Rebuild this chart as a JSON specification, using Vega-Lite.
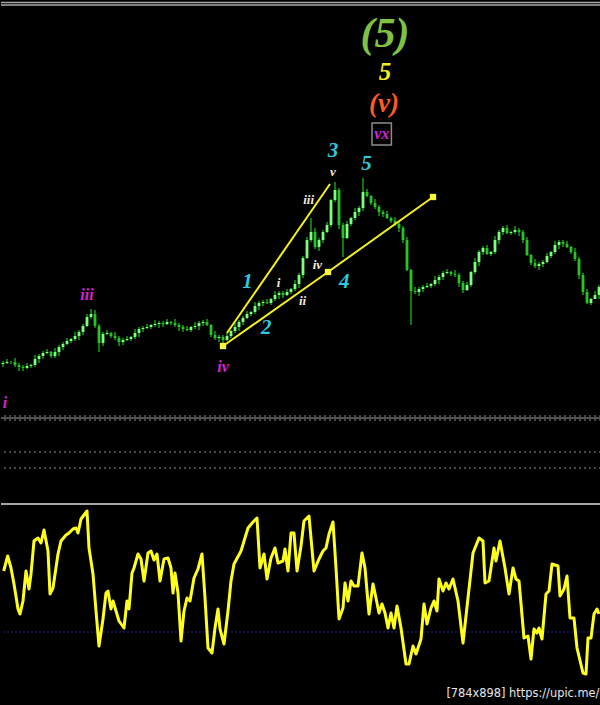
{
  "$schema": "https://vega.github.io/schema/vega-lite/v6.json",
  "background": "#000000",
  "padding": 0,
  "spacing": 0,
  "config": {"view": {"stroke": null}, "concat": {"spacing": 0}},
  "datasets": {
    "bars": [
      {"t":0.5,"o":138,"h":141,"l":135,"c":139},{"t":1.5,"o":139,"h":143,"l":138,"c":140},{"t":2.5,"o":140,"h":141,"l":138,"c":140},{"t":3.5,"o":140,"h":144,"l":135,"c":137},{"t":4.5,"o":137,"h":139,"l":131,"c":135},
      {"t":5.5,"o":135,"h":137,"l":131,"c":134},{"t":6.5,"o":134,"h":139,"l":133,"c":136},{"t":7.5,"o":136,"h":138,"l":134,"c":137},{"t":8.5,"o":137,"h":147,"l":135,"c":143},{"t":9.5,"o":143,"h":148,"l":139,"c":146},
      {"t":10.5,"o":146,"h":151,"l":143,"c":149},{"t":11.5,"o":149,"h":153,"l":148,"c":150},{"t":12.5,"o":150,"h":151,"l":144,"c":146},{"t":13.5,"o":146,"h":154,"l":144,"c":150},{"t":14.5,"o":150,"h":157,"l":146,"c":155},
      {"t":15.5,"o":155,"h":160,"l":152,"c":158},{"t":16.5,"o":158,"h":164,"l":157,"c":161},{"t":17.5,"o":161,"h":164,"l":159,"c":163},{"t":18.5,"o":163,"h":170,"l":161,"c":166},{"t":19.5,"o":166,"h":172,"l":162,"c":170},
      {"t":20.5,"o":170,"h":178,"l":167,"c":176},{"t":21.5,"o":176,"h":188,"l":175,"c":185},{"t":22.5,"o":185,"h":193,"l":183,"c":188},{"t":23.5,"o":188,"h":192,"l":174,"c":176},{"t":24.5,"o":176,"h":178,"l":150,"c":159},
      {"t":25.5,"o":159,"h":170,"l":156,"c":168},{"t":26.5,"o":168,"h":172,"l":167,"c":169},{"t":27.5,"o":169,"h":170,"l":164,"c":166},{"t":28.5,"o":166,"h":170,"l":162,"c":164},{"t":29.5,"o":164,"h":166,"l":156,"c":160},
      {"t":30.5,"o":160,"h":164,"l":157,"c":162},{"t":31.5,"o":162,"h":166,"l":161,"c":163},{"t":32.5,"o":163,"h":166,"l":161,"c":165},{"t":33.5,"o":165,"h":173,"l":163,"c":169},{"t":34.5,"o":169,"h":175,"l":165,"c":173},
      {"t":35.5,"o":173,"h":176,"l":170,"c":174},{"t":36.5,"o":174,"h":178,"l":173,"c":175},{"t":37.5,"o":175,"h":178,"l":173,"c":177},{"t":38.5,"o":177,"h":182,"l":175,"c":178},{"t":39.5,"o":178,"h":181,"l":174,"c":179},
      {"t":40.5,"o":179,"h":181,"l":175,"c":178},{"t":41.5,"o":178,"h":183,"l":177,"c":180},{"t":42.5,"o":180,"h":181,"l":177,"c":179},{"t":43.5,"o":179,"h":183,"l":175,"c":177},{"t":44.5,"o":177,"h":179,"l":171,"c":175},
      {"t":45.5,"o":175,"h":177,"l":170,"c":173},{"t":46.5,"o":173,"h":176,"l":171,"c":172},{"t":47.5,"o":172,"h":176,"l":170,"c":175},{"t":48.5,"o":175,"h":180,"l":173,"c":176},{"t":49.5,"o":176,"h":181,"l":172,"c":179},
      {"t":50.5,"o":179,"h":182,"l":176,"c":180},{"t":51.5,"o":180,"h":183,"l":176,"c":177},{"t":52.5,"o":177,"h":178,"l":165,"c":167},{"t":53.5,"o":167,"h":171,"l":162,"c":164},{"t":54.5,"o":164,"h":167,"l":160,"c":165},
      {"t":55.5,"o":165,"h":167,"l":157,"c":162},{"t":56.5,"o":162,"h":169,"l":161,"c":166},{"t":57.5,"o":166,"h":172,"l":164,"c":171},{"t":58.5,"o":171,"h":179,"l":169,"c":175},{"t":59.5,"o":175,"h":182,"l":171,"c":180},
      {"t":60.5,"o":180,"h":186,"l":177,"c":184},{"t":61.5,"o":184,"h":191,"l":183,"c":188},{"t":62.5,"o":188,"h":191,"l":186,"c":190},{"t":63.5,"o":190,"h":200,"l":188,"c":196},{"t":64.5,"o":196,"h":201,"l":192,"c":199},
      {"t":65.5,"o":199,"h":202,"l":196,"c":200},{"t":66.5,"o":200,"h":203,"l":198,"c":199},{"t":67.5,"o":199,"h":204,"l":197,"c":203},{"t":68.5,"o":203,"h":211,"l":201,"c":207},{"t":69.5,"o":207,"h":211,"l":203,"c":209},
      {"t":70.5,"o":209,"h":211,"l":204,"c":207},{"t":71.5,"o":207,"h":213,"l":206,"c":210},{"t":72.5,"o":210,"h":214,"l":208,"c":213},{"t":73.5,"o":213,"h":222,"l":211,"c":218},{"t":74.5,"o":218,"h":229,"l":214,"c":227},
      {"t":75.5,"o":227,"h":246,"l":224,"c":244},{"t":76.5,"o":244,"h":265,"l":243,"c":262},{"t":77.5,"o":262,"h":284,"l":260,"c":270},{"t":78.5,"o":270,"h":274,"l":253,"c":255},{"t":79.5,"o":255,"h":264,"l":251,"c":262},
      {"t":80.5,"o":262,"h":272,"l":259,"c":270},{"t":81.5,"o":270,"h":280,"l":269,"c":277},{"t":82.5,"o":277,"h":303,"l":275,"c":302},{"t":83.5,"o":302,"h":320,"l":300,"c":312},{"t":84.5,"o":312,"h":314,"l":273,"c":277},
      {"t":85.5,"o":277,"h":279,"l":245,"c":264},{"t":86.5,"o":264,"h":281,"l":263,"c":278},{"t":87.5,"o":278,"h":285,"l":276,"c":284},{"t":88.5,"o":284,"h":294,"l":282,"c":290},{"t":89.5,"o":290,"h":296,"l":286,"c":294},
      {"t":90.5,"o":294,"h":324,"l":291,"c":310},{"t":91.5,"o":310,"h":313,"l":305,"c":306},{"t":92.5,"o":306,"h":307,"l":297,"c":299},{"t":93.5,"o":299,"h":303,"l":293,"c":295},{"t":94.5,"o":295,"h":297,"l":286,"c":290},
      {"t":95.5,"o":290,"h":292,"l":285,"c":288},{"t":96.5,"o":288,"h":291,"l":283,"c":284},{"t":97.5,"o":284,"h":285,"l":279,"c":281},{"t":98.5,"o":281,"h":285,"l":276,"c":278},{"t":99.5,"o":278,"h":280,"l":270,"c":274},
      {"t":100.5,"o":274,"h":276,"l":259,"c":262},{"t":101.5,"o":262,"h":265,"l":231,"c":232},{"t":102.5,"o":232,"h":233,"l":177,"c":211},{"t":103.5,"o":211,"h":215,"l":208,"c":210},{"t":104.5,"o":210,"h":215,"l":206,"c":213},
      {"t":105.5,"o":213,"h":217,"l":210,"c":215},{"t":106.5,"o":215,"h":219,"l":214,"c":216},{"t":107.5,"o":216,"h":219,"l":214,"c":218},{"t":108.5,"o":218,"h":226,"l":216,"c":222},{"t":109.5,"o":222,"h":227,"l":218,"c":225},
      {"t":110.5,"o":225,"h":231,"l":222,"c":229},{"t":111.5,"o":229,"h":233,"l":228,"c":230},{"t":112.5,"o":230,"h":231,"l":226,"c":228},{"t":113.5,"o":228,"h":232,"l":225,"c":227},{"t":114.5,"o":227,"h":229,"l":215,"c":219},
      {"t":115.5,"o":219,"h":221,"l":209,"c":212},{"t":116.5,"o":212,"h":220,"l":211,"c":217},{"t":117.5,"o":217,"h":231,"l":215,"c":230},{"t":118.5,"o":230,"h":244,"l":228,"c":240},{"t":119.5,"o":240,"h":252,"l":236,"c":250},
      {"t":120.5,"o":250,"h":256,"l":247,"c":254},{"t":121.5,"o":254,"h":257,"l":247,"c":248},{"t":122.5,"o":248,"h":251,"l":246,"c":250},{"t":123.5,"o":250,"h":266,"l":248,"c":262},{"t":124.5,"o":262,"h":272,"l":258,"c":270},
      {"t":125.5,"o":270,"h":276,"l":267,"c":274},{"t":126.5,"o":274,"h":277,"l":268,"c":269},{"t":127.5,"o":269,"h":271,"l":267,"c":270},{"t":128.5,"o":270,"h":276,"l":268,"c":272},{"t":129.5,"o":272,"h":274,"l":266,"c":270},
      {"t":130.5,"o":270,"h":272,"l":259,"c":262},{"t":131.5,"o":262,"h":265,"l":246,"c":247},{"t":132.5,"o":247,"h":248,"l":237,"c":239},{"t":133.5,"o":239,"h":243,"l":234,"c":236},{"t":134.5,"o":236,"h":240,"l":232,"c":238},
      {"t":135.5,"o":238,"h":242,"l":235,"c":240},{"t":136.5,"o":240,"h":249,"l":239,"c":246},{"t":137.5,"o":246,"h":251,"l":244,"c":250},{"t":138.5,"o":250,"h":261,"l":248,"c":257},{"t":139.5,"o":257,"h":262,"l":253,"c":260},
      {"t":140.5,"o":260,"h":262,"l":255,"c":258},{"t":141.5,"o":258,"h":261,"l":254,"c":255},{"t":142.5,"o":255,"h":256,"l":248,"c":250},{"t":143.5,"o":250,"h":254,"l":241,"c":243},{"t":144.5,"o":243,"h":245,"l":223,"c":227},
      {"t":145.5,"o":227,"h":229,"l":207,"c":210},{"t":146.5,"o":210,"h":213,"l":198,"c":199},{"t":147.5,"o":199,"h":204,"l":197,"c":203},{"t":148.5,"o":203,"h":211,"l":205,"c":207},{"t":149.5,"o":207,"h":217,"l":203,"c":215}
    ],
    "wedge": [
      {"line":"upper","t":56.5,"p":169},{"line":"upper","t":82.25,"p":318},
      {"line":"lower","t":55.5,"p":156},{"line":"lower","t":81.75,"p":230},{"line":"lower","t":108,"p":305}
    ],
    "anchors": [{"t":55.5,"p":156},{"t":81.75,"p":230},{"t":108,"p":305}],
    "levels": [{"p":86},{"p":82},{"p":50},{"p":34}],
    "levelSolid": [{"p":84}],
    "frame": [{"p":499.5},{"p":497}],
    "box": [{"t1":92.75,"t2":97.6,"p1":379,"p2":357}],
    "labels": [
      {"degree":"primary","t":96,"p":468,"label":"(5)"},
      {"degree":"intermediate","t":96,"p":430,"label":"5"},
      {"degree":"minor","t":95.75,"p":398,"label":"(v)"},
      {"degree":"minute","t":95.2,"p":368,"label":"vx"},
      {"degree":"minute","t":21.5,"p":207,"label":"iii"},
      {"degree":"minute","t":55.5,"p":135,"label":"iv"},
      {"degree":"minute","t":1,"p":99,"label":"i"},
      {"degree":"minuette","t":83,"p":351,"label":"3"},
      {"degree":"minuette","t":91.4,"p":338,"label":"5"},
      {"degree":"minuette","t":61.6,"p":220,"label":"1"},
      {"degree":"minuette","t":66.3,"p":174,"label":"2"},
      {"degree":"minuette","t":85.8,"p":220,"label":"4"},
      {"degree":"subminuette","t":83,"p":330,"label":"v"},
      {"degree":"subminuette","t":76.9,"p":302,"label":"iii"},
      {"degree":"subminuette","t":69.4,"p":219,"label":"i"},
      {"degree":"subminuette","t":75.4,"p":201,"label":"ii"},
      {"degree":"subminuette","t":79.1,"p":237,"label":"iv"}
    ],
    "osc": [
      {"t":0.67,"v":135},{"t":1.67,"v":150},{"t":2.5,"v":138},{"t":3.25,"v":122},{"t":4.25,"v":97},{"t":4.75,"v":92},{"t":5.5,"v":105},{"t":6.25,"v":135},{"t":7,"v":117},{"t":7.5,"v":132},
      {"t":8.25,"v":165},{"t":9.25,"v":168},{"t":10,"v":163},{"t":10.75,"v":176},{"t":11.75,"v":155},{"t":12.25,"v":112},{"t":13,"v":118},{"t":14.25,"v":152},{"t":15,"v":165},{"t":16.25,"v":171},
      {"t":17,"v":173},{"t":18,"v":177},{"t":18.75,"v":178},{"t":19.25,"v":173},{"t":20,"v":187},{"t":20.75,"v":191},{"t":21.5,"v":195},{"t":22,"v":158},{"t":23,"v":132},{"t":23.75,"v":95},
      {"t":24.5,"v":60},{"t":25.5,"v":87},{"t":26.25,"v":113},{"t":26.75,"v":115},{"t":27.5,"v":97},{"t":28,"v":105},{"t":28.75,"v":95},{"t":29.5,"v":85},{"t":30.75,"v":78},{"t":31.5,"v":105},
      {"t":32,"v":97},{"t":32.75,"v":133},{"t":33.25,"v":138},{"t":34.25,"v":152},{"t":35,"v":147},{"t":35.75,"v":125},{"t":36.75,"v":153},{"t":37.5,"v":155},{"t":38.25,"v":146},{"t":39,"v":152},
      {"t":39.75,"v":125},{"t":40.75,"v":147},{"t":41.75,"v":148},{"t":42.5,"v":138},{"t":43,"v":113},{"t":43.5,"v":133},{"t":44.25,"v":113},{"t":45,"v":65},{"t":45.75,"v":95},{"t":46.5,"v":108},
      {"t":47.25,"v":105},{"t":48.25,"v":128},{"t":49.25,"v":137},{"t":50.25,"v":152},{"t":51,"v":108},{"t":51.75,"v":58},{"t":52.75,"v":53},{"t":53.5,"v":78},{"t":54.25,"v":97},{"t":54.75,"v":77},
      {"t":55.75,"v":62},{"t":56.75,"v":95},{"t":57.5,"v":125},{"t":58.25,"v":142},{"t":60,"v":155},{"t":61.75,"v":178},{"t":63,"v":184},{"t":64,"v":188},{"t":64.75,"v":138},{"t":65.75,"v":152},
      {"t":66.5,"v":127},{"t":67.5,"v":148},{"t":68.5,"v":158},{"t":69.25,"v":143},{"t":70.5,"v":145},{"t":71,"v":157},{"t":71.75,"v":135},{"t":72.5,"v":173},{"t":73.25,"v":173},{"t":74,"v":135},
      {"t":75,"v":160},{"t":75.75,"v":185},{"t":77,"v":190},{"t":78.25,"v":135},{"t":79.5,"v":147},{"t":80.5,"v":155},{"t":81.25,"v":158},{"t":82,"v":172},{"t":83,"v":184},{"t":83.75,"v":138},
      {"t":84.5,"v":87},{"t":85.5,"v":98},{"t":86,"v":123},{"t":86.75,"v":105},{"t":87.5,"v":125},{"t":88.25,"v":120},{"t":89.25,"v":120},{"t":90.25,"v":153},{"t":91,"v":138},{"t":92,"v":92},
      {"t":93,"v":122},{"t":93.75,"v":108},{"t":94.5,"v":93},{"t":95.25,"v":102},{"t":96,"v":93},{"t":96.75,"v":78},{"t":97.5,"v":93},{"t":98.25,"v":78},{"t":99,"v":100},{"t":100,"v":78},
      {"t":101.25,"v":42},{"t":102,"v":42},{"t":103,"v":60},{"t":103.75,"v":52},{"t":105,"v":67},{"t":105.75,"v":102},{"t":106.5,"v":82},{"t":107.5,"v":98},{"t":108.25,"v":105},{"t":109,"v":95},
      {"t":109.5,"v":127},{"t":110.5,"v":115},{"t":111.25,"v":123},{"t":112,"v":117},{"t":113,"v":127},{"t":114.25,"v":105},{"t":115.5,"v":63},{"t":116.75,"v":108},{"t":118,"v":153},{"t":119.5,"v":168},
      {"t":120.5,"v":165},{"t":121,"v":123},{"t":122,"v":125},{"t":123.25,"v":158},{"t":123.75,"v":145},{"t":124.75,"v":165},{"t":126,"v":138},{"t":127,"v":112},{"t":128,"v":138},{"t":128.75,"v":127},
      {"t":129.5,"v":125},{"t":130.75,"v":68},{"t":131.75,"v":70},{"t":132.5,"v":47},{"t":133.25,"v":77},{"t":134,"v":73},{"t":134.5,"v":78},{"t":135.25,"v":67},{"t":136.25,"v":112},{"t":137,"v":115},
      {"t":137.75,"v":142},{"t":139.25,"v":140},{"t":139.75,"v":110},{"t":140.75,"v":117},{"t":141.5,"v":130},{"t":142.25,"v":88},{"t":143.25,"v":88},{"t":144,"v":58},{"t":145.5,"v":33},{"t":146.25,"v":32},
      {"t":146.75,"v":68},{"t":147.5,"v":68},{"t":148.25,"v":92},{"t":149,"v":97},{"t":149.5,"v":92}
    ],
    "oscLevel": [{"v":74}],
    "separator": [{"v":202}],
    "note": [{"t":149.6,"v":12,"text":"[784x898] https://upic.me/"}]
  },
  "vconcat": [
    {
      "width": 600,
      "height": 502,
      "encoding": {
        "x": {"field": "t", "type": "quantitative", "scale": {"domain": [0, 150], "nice": false, "zero": false}, "axis": null}
      },
      "layer": [
        {"data": {"name": "frame"}, "mark": {"type": "rule", "color": "#a8a8a8", "strokeWidth": 1.5},
         "encoding": {"y": {"field": "p", "type": "quantitative", "scale": {"domain": [0, 502], "nice": false, "zero": false}, "axis": null}, "x": null}},
        {"data": {"name": "levels"}, "mark": {"type": "rule", "color": "#8a8a8a", "strokeWidth": 1, "strokeDash": [2, 3]},
         "encoding": {"y": {"field": "p", "type": "quantitative"}, "x": null}},
        {"data": {"name": "levelSolid"}, "mark": {"type": "rule", "color": "#6e6e6e", "strokeWidth": 1.5},
         "encoding": {"y": {"field": "p", "type": "quantitative"}, "x": null}},
        {"data": {"name": "bars"}, "mark": {"type": "rule", "color": "#16c816", "strokeWidth": 1.2},
         "encoding": {"y": {"field": "l", "type": "quantitative"}, "y2": {"field": "h"}}},
        {"data": {"name": "bars"}, "mark": {"type": "rule", "strokeWidth": 2.8},
         "encoding": {"y": {"field": "o", "type": "quantitative"}, "y2": {"field": "c"},
           "color": {"condition": {"test": "datum.c >= datum.o", "value": "#7cff7c"}, "value": "#26c426"}}},
        {"data": {"name": "wedge"}, "mark": {"type": "line", "color": "#f2f21a", "strokeWidth": 2},
         "encoding": {"y": {"field": "p", "type": "quantitative"}, "detail": {"field": "line"}}},
        {"data": {"name": "anchors"}, "mark": {"type": "point", "shape": "square", "filled": true, "color": "#f5f53a", "size": 40, "opacity": 1},
         "encoding": {"y": {"field": "p", "type": "quantitative"}}},
        {"data": {"name": "box"}, "mark": {"type": "rect", "fill": null, "stroke": "#8c8c8c", "strokeWidth": 1.5},
         "encoding": {"x": {"field": "t1", "type": "quantitative"}, "x2": {"field": "t2"}, "y": {"field": "p1", "type": "quantitative"}, "y2": {"field": "p2"}}},
        {"data": {"name": "labels"}, "transform": [{"filter": "datum.degree == 'primary'"}],
         "mark": {"type": "text", "font": "Liberation Serif", "fontStyle": "italic", "fontWeight": "bold", "fontSize": 42, "color": "#7fc241", "baseline": "middle", "align": "center"},
         "encoding": {"y": {"field": "p", "type": "quantitative"}, "text": {"field": "label"}}},
        {"data": {"name": "labels"}, "transform": [{"filter": "datum.degree == 'intermediate'"}],
         "mark": {"type": "text", "font": "Liberation Serif", "fontStyle": "italic", "fontWeight": "bold", "fontSize": 25, "color": "#eeee22", "baseline": "middle", "align": "center"},
         "encoding": {"y": {"field": "p", "type": "quantitative"}, "text": {"field": "label"}}},
        {"data": {"name": "labels"}, "transform": [{"filter": "datum.degree == 'minor'"}],
         "mark": {"type": "text", "font": "Liberation Serif", "fontStyle": "italic", "fontWeight": "bold", "fontSize": 27, "color": "#ff5a22", "baseline": "middle", "align": "center"},
         "encoding": {"y": {"field": "p", "type": "quantitative"}, "text": {"field": "label"}}},
        {"data": {"name": "labels"}, "transform": [{"filter": "datum.degree == 'minute'"}],
         "mark": {"type": "text", "font": "Liberation Serif", "fontStyle": "italic", "fontWeight": "bold", "fontSize": 16, "color": "#d424d4", "baseline": "middle", "align": "center"},
         "encoding": {"y": {"field": "p", "type": "quantitative"}, "text": {"field": "label"}}},
        {"data": {"name": "labels"}, "transform": [{"filter": "datum.degree == 'minuette'"}],
         "mark": {"type": "text", "font": "Liberation Serif", "fontStyle": "italic", "fontWeight": "bold", "fontSize": 21, "color": "#2ec8de", "baseline": "middle", "align": "center"},
         "encoding": {"y": {"field": "p", "type": "quantitative"}, "text": {"field": "label"}}},
        {"data": {"name": "labels"}, "transform": [{"filter": "datum.degree == 'subminuette'"}],
         "mark": {"type": "text", "font": "Liberation Serif", "fontStyle": "italic", "fontWeight": "bold", "fontSize": 13, "color": "#f3e8dc", "baseline": "middle", "align": "center"},
         "encoding": {"y": {"field": "p", "type": "quantitative"}, "text": {"field": "label"}}}
      ]
    },
    {
      "width": 600,
      "height": 203,
      "encoding": {
        "x": {"field": "t", "type": "quantitative", "scale": {"domain": [0, 150], "nice": false, "zero": false}, "axis": null}
      },
      "layer": [
        {"data": {"name": "separator"}, "mark": {"type": "rule", "color": "#a6a6a6", "strokeWidth": 2},
         "encoding": {"y": {"field": "v", "type": "quantitative", "scale": {"domain": [0, 203], "nice": false, "zero": false}, "axis": null}, "x": null}},
        {"data": {"name": "oscLevel"}, "mark": {"type": "rule", "color": "#1c1c96", "strokeWidth": 1, "strokeDash": [2, 2]},
         "encoding": {"y": {"field": "v", "type": "quantitative"}, "x": null}},
        {"data": {"name": "osc"}, "mark": {"type": "line", "color": "#ffff1e", "strokeWidth": 3, "strokeJoin": "round"},
         "encoding": {"y": {"field": "v", "type": "quantitative"}}},
        {"data": {"name": "note"}, "mark": {"type": "text", "font": "DejaVu Sans", "fontSize": 11.4, "color": "#e6e6e6", "align": "right", "baseline": "middle"},
         "encoding": {"y": {"field": "v", "type": "quantitative"}, "text": {"field": "text"}}}
      ]
    }
  ]
}
